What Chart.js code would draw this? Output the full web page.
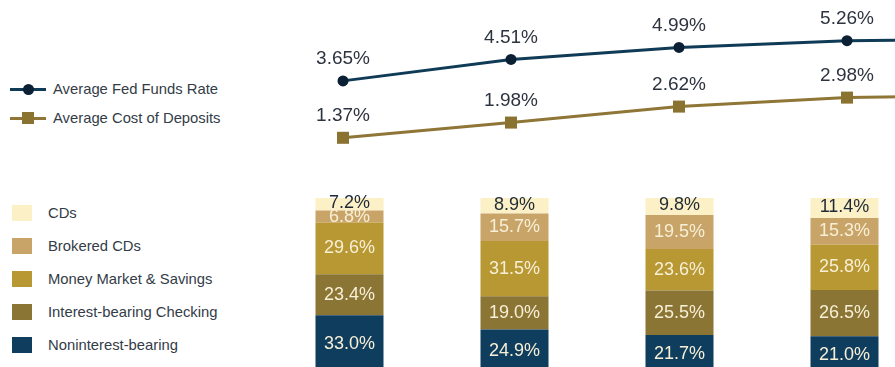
<!DOCTYPE html>
<html>
<head>
<meta charset="utf-8">
<script src="https://cdn.jsdelivr.net/npm/chart.js@4.4.1/dist/chart.umd.min.js"></script>
<style>
  html, body { margin:0; padding:0; background:#fff; }
  body { width:895px; height:367px; overflow:hidden; position:relative; font-family:"Liberation Sans", Arial, sans-serif; }
  canvas { position:absolute; }
  #lineWrap { position:absolute; left:259px; top:0; width:840px; height:172px; }
  #barWrap { position:absolute; left:267px; top:180px; width:660px; height:200px; }
  .leg { position:absolute; left:0; font-size:14.8px; color:#333c47; white-space:nowrap; }
  .leg .item { position:absolute; left:0; height:20px; width:300px; }
  .leg .txt { position:absolute; top:0; line-height:20px; }
  .sym { position:absolute; }
</style>
</head>
<body>
<div class="leg" id="lineLegend" style="top:0"></div>
<div class="leg" id="barLegend" style="top:0"></div>
<div id="lineWrap"><canvas id="lineChart" width="840" height="172"></canvas></div>
<div id="barWrap"><canvas id="barChart" width="660" height="200"></canvas></div>
<script>
// ---- data ----
const periods = ["4Q22", "1Q23", "2Q23", "3Q23", "4Q23"];
const fedFundsRate = [3.65, 4.51, 4.99, 5.26, 5.33];
const costOfDeposits = [1.37, 1.98, 2.62, 2.98, 3.07];
const lineNames = ["Average Fed Funds Rate", "Average Cost of Deposits"];

const barPeriods = ["4Q22", "1Q23", "2Q23", "3Q23"];
const noninterestBearing = [33.0, 24.9, 21.7, 21.0];
const interestChecking = [23.4, 19.0, 25.5, 26.5];
const moneyMarketSavings = [29.6, 31.5, 23.6, 25.8];
const brokeredCDs = [6.8, 15.7, 19.5, 15.3];
const cds = [7.2, 8.9, 9.8, 11.4];
const barNames = ["CDs", "Brokered CDs", "Money Market & Savings", "Interest-bearing Checking", "Noninterest-bearing"];

// ---- styles ----
const FONT = '"Liberation Sans", Arial, sans-serif';
const navyLine = '#0f3b56', navyPoint = '#0b1f35';
const goldLine = '#8f7636', goldPoint = '#8a7231';
const barColors = {
  "CDs": '#fbf0c6',
  "Brokered CDs": '#c9a468',
  "Money Market & Savings": '#b89832',
  "Interest-bearing Checking": '#8b7535',
  "Noninterest-bearing": '#0f3d5e'
};

// value labels plugin
const valueLabels = {
  id: 'valueLabels',
  afterDatasetsDraw(chart, args, opts) {
    const ctx = chart.ctx;
    ctx.save();
    chart.data.datasets.forEach((ds, di) => {
      const meta = chart.getDatasetMeta(di);
      meta.data.forEach((el, i) => {
        if (i >= (ds.labelCount || ds.data.length)) return;
        const v = ds.data[i];
        const txt = v.toFixed(ds.decimals) + '%';
        ctx.font = ds.labelFont;
        ctx.fillStyle = ds.labelColor;
        ctx.textAlign = 'center';
        ctx.textBaseline = 'middle';
        let x = el.x, y;
        if (chart.config.type === 'line') {
          y = el.y - 22;
        } else {
          y = (el.y + el.base) / 2 + (ds.labelDy || 0);
        }
        ctx.fillText(txt, x, y);
      });
    });
    ctx.restore();
  }
};

// ---- line chart ----
new Chart(document.getElementById('lineChart'), {
  type: 'line',
  data: {
    labels: periods,
    datasets: [
      { label: lineNames[0], data: fedFundsRate, borderColor: navyLine, borderWidth: 3,
        pointStyle: 'circle', pointRadius: 5.5, pointBackgroundColor: navyPoint, pointBorderColor: navyPoint, pointBorderWidth: 0,
        labelFont: '19px ' + FONT, labelColor: '#2d3440', decimals: 2, labelCount: 4, tension: 0, clip: false },
      { label: lineNames[1], data: costOfDeposits, borderColor: goldLine, borderWidth: 3,
        pointStyle: 'rect', pointRadius: 8.5, pointBackgroundColor: goldPoint, pointBorderColor: goldPoint, pointBorderWidth: 0,
        labelFont: '19px ' + FONT, labelColor: '#2d3440', decimals: 2, labelCount: 4, tension: 0, clip: false }
    ]
  },
  options: {
    responsive: false, animation: false,
    layout: { padding: 0, autoPadding: false },
    plugins: { legend: { display: false }, tooltip: { enabled: false } },
    scales: {
      x: { display: false, offset: true },
      y: { display: false, min: 0, max: 6.89 }
    }
  },
  plugins: [valueLabels]
});

// ---- bar chart ----
const barSeries = [
  { name: barNames[4], data: noninterestBearing },
  { name: barNames[3], data: interestChecking },
  { name: barNames[2], data: moneyMarketSavings },
  { name: barNames[1], data: brokeredCDs },
  { name: barNames[0], data: cds }
];
new Chart(document.getElementById('barChart'), {
  type: 'bar',
  data: {
    labels: barPeriods,
    datasets: barSeries.map(s => ({
      label: s.name, data: s.data, backgroundColor: barColors[s.name], borderWidth: 0,
      categoryPercentage: 1, barPercentage: 68/165,
      labelFont: '18px ' + FONT, labelColor: s.name === 'CDs' ? '#1f2a36' : '#f7efd6', decimals: 1,
      labelDy: s.name === 'CDs' ? -1 : 0
    }))
  },
  options: {
    responsive: false, animation: false,
    layout: { padding: { top: 18, bottom: 7, left: 0, right: 0 }, autoPadding: false },
    plugins: { legend: { display: false }, tooltip: { enabled: false } },
    scales: {
      x: { display: false, stacked: true },
      y: { display: false, stacked: true, min: 0, max: 100 }
    }
  },
  plugins: [valueLabels]
});

// ---- legends (HTML text) ----
const lineLeg = document.getElementById('lineLegend');
const lineLegY = [79, 108];
const lineLegStyle = [
  { line: navyLine, pt: navyPoint, shape: 'circle' },
  { line: goldLine, pt: goldPoint, shape: 'rect' }
];
lineNames.forEach((n, i) => {
  const it = document.createElement('div');
  it.className = 'item';
  it.style.top = lineLegY[i] + 'px';
  const st = lineLegStyle[i];
  const ln = document.createElement('div');
  ln.className = 'sym';
  ln.style.cssText = `left:10px;top:9px;width:36px;height:3px;background:${st.line}`;
  const pt = document.createElement('div');
  pt.className = 'sym';
  if (st.shape === 'circle') {
    pt.style.cssText = `left:23px;top:5px;width:11px;height:11px;border-radius:50%;background:${st.pt}`;
  } else {
    pt.style.cssText = `left:22px;top:4px;width:12px;height:12px;background:${st.pt}`;
  }
  const t = document.createElement('div');
  t.className = 'txt';
  t.style.left = '53px';
  t.textContent = n;
  it.appendChild(ln); it.appendChild(pt); it.appendChild(t);
  lineLeg.appendChild(it);
});

const barLeg = document.getElementById('barLegend');
barNames.forEach((n, i) => {
  const it = document.createElement('div');
  it.className = 'item';
  it.style.top = (203 + i * 33) + 'px';
  const sq = document.createElement('div');
  sq.className = 'sym';
  sq.style.cssText = `left:12px;top:2px;width:20px;height:16px;background:${barColors[n]}`;
  const t = document.createElement('div');
  t.className = 'txt';
  t.style.left = '48px';
  t.textContent = n;
  it.appendChild(sq); it.appendChild(t);
  barLeg.appendChild(it);
});
</script>
</body>
</html>
